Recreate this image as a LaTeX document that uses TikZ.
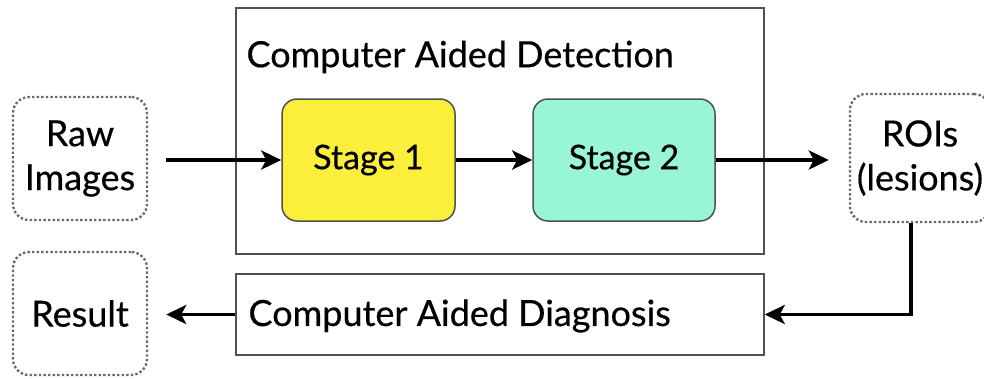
\documentclass[tikz,border=0pt]{standalone}
\usepackage{fontspec}
\setmainfont{Lato}[UprightFeatures={FakeBold=0.5}]
\usetikzlibrary{arrows.meta}
\definecolor{stageyellow}{HTML}{FCEF3C}
\definecolor{stagemint}{HTML}{98F6D6}
\definecolor{boxgray}{HTML}{505050}
\definecolor{dotgray}{HTML}{6A6A6A}
\tikzset{
  bigfont/.style={font=\fontsize{36}{44}\selectfont},
  iobox/.style={draw=dotgray, line width=2.4pt, dash pattern=on 2.4pt off 2.2pt, rounded corners=16pt, align=center, bigfont},
  stagebox/.style={draw=boxgray, line width=1.5pt, rounded corners=15pt, font=\fontsize{34}{40}\selectfont},
  framebox/.style={draw=boxgray, line width=1.5pt},
  conn/.style={line width=3.8pt, -{Stealth[length=20pt,width=19pt,inset=5pt]}},
}
\begin{document}
\begin{tikzpicture}[x=1pt,y=-1pt]
\useasboundingbox (0,0) rectangle (984,378);
\clip (0,0) rectangle (984,378);
\node[framebox, minimum width=528pt, minimum height=246pt] (cad) at (500,131) {};
\node[anchor=west, bigfont] (cadtitle) at (243,57) {Computer Aided Detection};
\node[stagebox, fill=stageyellow, minimum width=173pt, minimum height=122pt] (s1) at (368.5,160) {Stage 1};
\node[stagebox, fill=stagemint, minimum width=182pt, minimum height=122pt] (s2) at (624,160) {Stage 2};
\node[iobox, minimum width=134pt, minimum height=123pt] (raw) at (80,158.5) {Raw\\Images};
\node[iobox, minimum width=140pt, minimum height=128pt] (roi) at (920,158) {ROIs\\(lesions)};
\node[iobox, minimum width=134pt, minimum height=123pt] (res) at (80,313.5) {Result};
\node[framebox, minimum width=528pt, minimum height=81pt] (cadx) at (500,314.5) {};
\node[anchor=west, bigfont] (cadxlabel) at (245,316) {Computer Aided Diagnosis};
\draw[conn, shorten <=18pt] (raw.east |- s1.west) -- (s1.west);
\draw[conn] (s1.east) -- (s2.west);
\draw[conn, shorten >=20pt] (s2.east) -- (s2.east -| roi.west);
\draw[conn] (roi.south -| 911,0) |- (cadx.east);
\draw[conn, shorten >=18pt] (cadx.west) -- (res.east |- cadx.west);
\end{tikzpicture}
\end{document}
